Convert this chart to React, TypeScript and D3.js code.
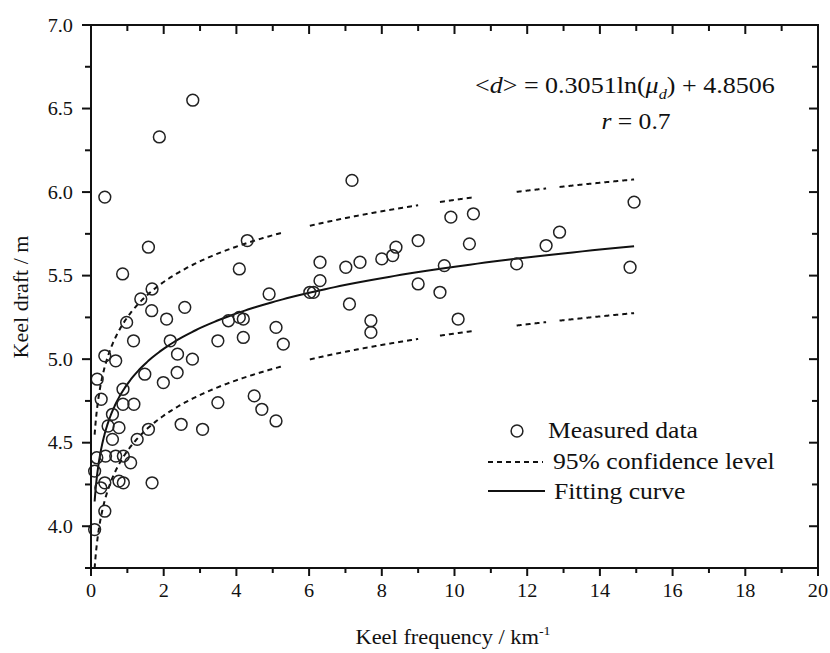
import React from 'react';
import * as d3 from 'd3';

// ---- data ----
const measuredFreq = [
  0.38, 1.58, 0.87, 1.68, 1.37, 1.67, 2.58, 2.08, 0.98, 1.17,
  2.18, 0.38, 0.68, 2.38, 2.79, 1.48, 2.37, 1.99, 0.17, 0.88,
  0.28, 0.88, 1.18, 0.59, 0.47, 0.77, 1.58, 2.48, 3.07, 1.27,
  0.59, 0.16, 0.40, 0.68, 0.89, 1.09, 0.10, 0.38, 0.77, 0.89,
  0.27, 1.68, 0.38, 0.10, 4.30, 4.08, 4.90, 3.78, 4.08, 4.19,
  3.49, 4.19, 5.09, 5.29, 3.49, 4.49, 4.70, 5.09, 9.90, 10.52,
  10.41, 9.00, 8.39, 8.30, 8.00, 7.40, 7.01, 6.30, 6.30, 6.02,
  6.12, 9.72, 9.00, 9.60, 10.10, 7.11, 7.70, 7.70, 11.71, 12.52,
  12.89, 14.94, 14.83, 7.18, 2.80, 1.88,
];
const measuredDraft = [
  5.97, 5.67, 5.51, 5.42, 5.36, 5.29, 5.31, 5.24, 5.22, 5.11,
  5.11, 5.02, 4.99, 5.03, 5.00, 4.91, 4.92, 4.86, 4.88, 4.82,
  4.76, 4.73, 4.73, 4.67, 4.60, 4.59, 4.58, 4.61, 4.58, 4.52,
  4.52, 4.41, 4.42, 4.42, 4.42, 4.38, 4.33, 4.26, 4.27, 4.26,
  4.23, 4.26, 4.09, 3.98, 5.71, 5.54, 5.39, 5.23, 5.25, 5.24,
  5.11, 5.13, 5.19, 5.09, 4.74, 4.78, 4.70, 4.63, 5.85, 5.87,
  5.69, 5.71, 5.67, 5.62, 5.60, 5.58, 5.55, 5.58, 5.47, 5.40,
  5.40, 5.56, 5.45, 5.40, 5.24, 5.33, 5.23, 5.16, 5.57, 5.68,
  5.76, 5.94, 5.55, 6.07, 6.55, 6.33,
];

// fitted curve <d> = a ln(mu_d) + b, as printed on the chart
const FIT_A = 0.3051;
const FIT_B = 4.8506;
const FIT_RANGE = [0.1, 14.94];
// 95% confidence band: half width and the x-ranges where the dashed lines are drawn
const BAND_HALF = 0.40;
const bandSegStart = [0.1, 6.02, 9.6, 11.71, 12.89];
const bandSegEnd = [5.29, 9.0, 10.52, 12.52, 14.94];

const xTickValues = [0, 2, 4, 6, 8, 10, 12, 14, 16, 18, 20];
const xTickLabels = ['0', '2', '4', '6', '8', '10', '12', '14', '16', '18', '20'];
const yTickValues = [4.0, 4.5, 5.0, 5.5, 6.0, 6.5, 7.0];
const yTickLabels = ['4.0', '4.5', '5.0', '5.5', '6.0', '6.5', '7.0'];

const legendLabels = ['Measured data', '95% confidence level', 'Fitting curve'];

// ---- layout ----
const W = 830;
const H = 653;
const L = 91, R = 818, T = 25, B = 568;
const SX = 1.067; // horizontal text stretch seen in the reference
const FONT = "'Liberation Serif', 'Times New Roman', Tinos, Times, serif";
const txt = { fontFamily: FONT };

export default function App() {
  const x = d3.scaleLinear().domain([0, 20]).range([L, R]);
  const y = d3.scaleLinear().domain([3.75, 7.0]).range([B, T]);

  const fit = (v: number) => FIT_A * Math.log(v) + FIT_B;
  const sampleLog = (a: number, b: number) => {
    const la = Math.log(a), lb = Math.log(b);
    return d3.range(0, 1.0001, 0.004).map((t) => Math.exp(la + t * (lb - la)));
  };

  const line = d3
    .line<[number, number]>()
    .x((d) => x(d[0]))
    .y((d) => y(d[1]));

  const fitPath = line(sampleLog(FIT_RANGE[0], FIT_RANGE[1]).map((v) => [v, fit(v)]));
  const bandPaths: string[] = [];
  bandSegStart.forEach((s, i) => {
    const xs = sampleLog(s, bandSegEnd[i]);
    bandPaths.push(line(xs.map((v) => [v, fit(v) + BAND_HALF]))!);
    bandPaths.push(line(xs.map((v) => [v, fit(v) - BAND_HALF]))!);
  });

  const xMinor = d3.range(0, 20.001, 1);
  const yMinor = d3.range(3.75, 7.001, 0.25);

  const axisStroke = '#111';

  return (
    <svg
      width={W}
      height={H}
      style={{ position: 'absolute', left: 0, top: 0, background: '#fff', fontFamily: FONT }}
    >
      <defs>
        <clipPath id="plotClip">
          <rect x={L} y={T} width={R - L} height={B - T} />
        </clipPath>
      </defs>

      {/* bands and fit */}
      <g clipPath="url(#plotClip)">
        {bandPaths.map((p, i) => (
          <path key={i} d={p} fill="none" stroke="#111" strokeWidth={2} strokeDasharray="5 4" />
        ))}
        <path d={fitPath!} fill="none" stroke="#111" strokeWidth={2} />
      </g>

      {/* measured points */}
      <g>
        {measuredFreq.map((v, i) => (
          <circle
            key={i}
            cx={x(v)}
            cy={y(measuredDraft[i])}
            r={5.9}
            fill="none"
            stroke="#222"
            strokeWidth={1.5}
          />
        ))}
      </g>

      {/* frame */}
      <rect x={L} y={T} width={R - L} height={B - T} fill="none" stroke={axisStroke} strokeWidth={2} />

      {/* x ticks: bottom outward, top inward */}
      {xMinor.map((v, i) => {
        const major = Math.abs(v % 2) < 1e-6;
        return (
          <g key={'xt' + i}>
            <line x1={x(v)} x2={x(v)} y1={B} y2={B + (major ? 8 : 5)} stroke={axisStroke} strokeWidth={2} />
            <line x1={x(v)} x2={x(v)} y1={T} y2={T + (major ? 9 : 6)} stroke={axisStroke} strokeWidth={2} />
          </g>
        );
      })}
      {/* y ticks: left outward, right inward */}
      {yMinor.map((v, i) => {
        const major = Math.abs((v * 2) % 1) < 1e-6;
        return (
          <g key={'yt' + i}>
            <line x1={L - (major ? 9 : 6)} x2={L} y1={y(v)} y2={y(v)} stroke={axisStroke} strokeWidth={2} />
            <line x1={R - (major ? 9 : 6)} x2={R} y1={y(v)} y2={y(v)} stroke={axisStroke} strokeWidth={2} />
          </g>
        );
      })}

      {/* tick labels */}
      {xTickValues.map((v, i) => (
        <text
          key={'xl' + i}
          transform={`translate(${x(v)},${597}) scale(${SX},1)`}
          textAnchor="middle"
          fontSize={19}
          fill="#111"
          style={txt}
        >
          {xTickLabels[i]}
        </text>
      ))}
      {yTickValues.map((v, i) => (
        <text
          key={'yl' + i}
          transform={`translate(${73},${y(v) + 6.5}) scale(${SX},1)`}
          textAnchor="end"
          fontSize={19}
          fill="#111"
          style={txt}
        >
          {yTickLabels[i]}
        </text>
      ))}

      {/* axis titles */}
      <text transform={`translate(${453},${644}) scale(${SX},1)`} textAnchor="middle" fontSize={21} fill="#111" style={txt}>
        Keel frequency / km
        <tspan fontSize={13} dy={-9}>-1</tspan>
      </text>
      <text
        transform={`translate(${28},${297}) rotate(-90)`}
        textAnchor="middle"
        fontSize={22}
        fill="#111"
        style={txt}
      >
        Keel draft / m
      </text>

      {/* equation */}
      <text transform={`translate(${475},${93}) scale(1.085,1)`} fontSize={24} fill="#111" style={txt}>
        {'<'}
        <tspan fontStyle="italic">d</tspan>
        {'> = 0.3051ln('}
        <tspan fontStyle="italic">μ</tspan>
        <tspan fontStyle="italic" fontSize={15} dy={6}>d</tspan>
        <tspan dy={-6}>{') + 4.8506'}</tspan>
      </text>
      <text transform={`translate(${636},${129}) scale(${SX},1)`} textAnchor="middle" fontSize={24} fill="#111" style={txt}>
        <tspan fontStyle="italic">r</tspan>
        {' = 0.7'}
      </text>

      {/* legend */}
      <circle cx={517} cy={431} r={5.9} fill="none" stroke="#222" strokeWidth={1.5} />
      <text transform={`translate(${548},${438}) scale(${SX},1)`} fontSize={24} fill="#111" style={txt}>
        {legendLabels[0]}
      </text>
      <line x1={488} x2={543} y1={462} y2={462} stroke="#111" strokeWidth={2} strokeDasharray="5 4" />
      <text transform={`translate(${553},${469}) scale(${SX},1)`} fontSize={24} fill="#111" style={txt}>
        {legendLabels[1]}
      </text>
      <line x1={488} x2={545} y1={491} y2={491} stroke="#111" strokeWidth={2} />
      <text transform={`translate(${554},${499}) scale(${SX},1)`} fontSize={24} fill="#111" style={txt}>
        {legendLabels[2]}
      </text>
    </svg>
  );
}
